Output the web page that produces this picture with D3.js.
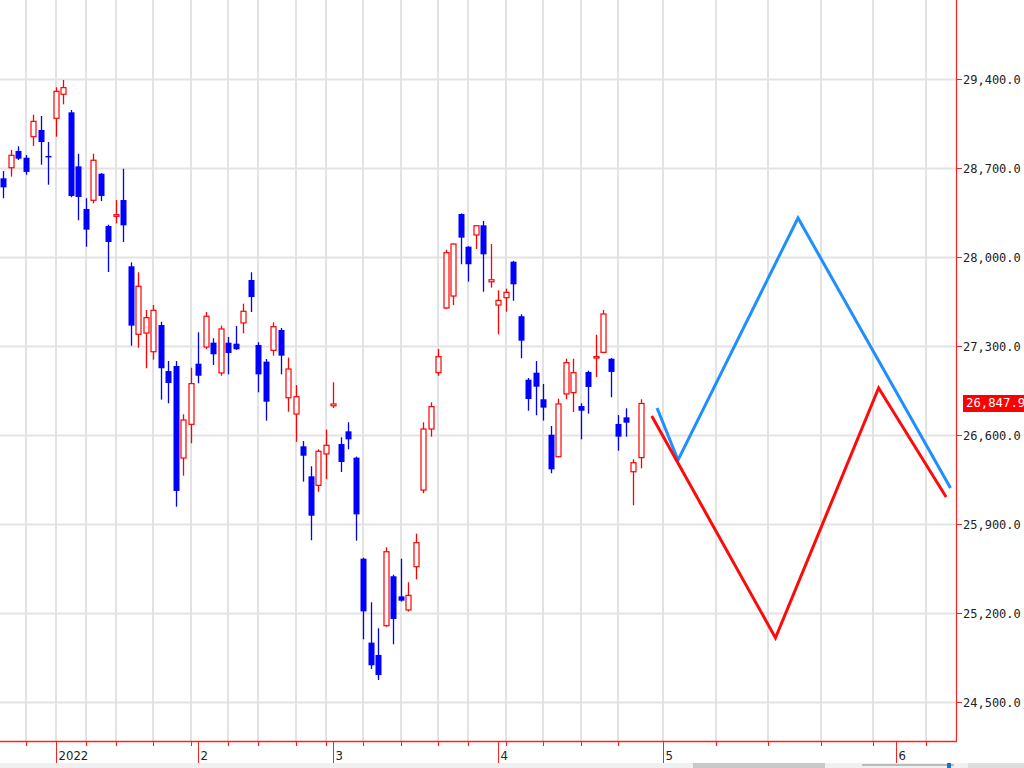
<!DOCTYPE html>
<html><head><meta charset="utf-8">
<script src="https://cdn.jsdelivr.net/npm/d3@7"></script>
<style>body{margin:0;background:#fff;overflow:hidden}svg{display:block}</style>
</head><body><svg id="c" width="1024" height="768"></svg>
<script>
// ---- DATA ----
const tradeDates = [
"2021-12-22","2021-12-23","2021-12-24","2021-12-27","2021-12-28","2021-12-29","2021-12-30",
"2022-01-04","2022-01-05","2022-01-06","2022-01-07","2022-01-11","2022-01-12","2022-01-13","2022-01-14",
"2022-01-17","2022-01-18","2022-01-19","2022-01-20","2022-01-21","2022-01-24","2022-01-25","2022-01-26","2022-01-27","2022-01-28",
"2022-01-31","2022-02-01","2022-02-02","2022-02-03","2022-02-04","2022-02-07","2022-02-08","2022-02-09","2022-02-10",
"2022-02-14","2022-02-15","2022-02-16","2022-02-17","2022-02-18","2022-02-21","2022-02-22","2022-02-24","2022-02-25",
"2022-02-28","2022-03-01","2022-03-02","2022-03-03","2022-03-04","2022-03-07","2022-03-08","2022-03-09","2022-03-10","2022-03-11",
"2022-03-14","2022-03-15","2022-03-16","2022-03-17","2022-03-18","2022-03-22","2022-03-23","2022-03-24","2022-03-25",
"2022-03-28","2022-03-29","2022-03-30","2022-03-31","2022-04-01","2022-04-04","2022-04-05","2022-04-06","2022-04-07","2022-04-08",
"2022-04-11","2022-04-12","2022-04-13","2022-04-14","2022-04-15","2022-04-18","2022-04-19","2022-04-20","2022-04-21","2022-04-22",
"2022-04-25","2022-04-26","2022-04-27","2022-04-28"];
const openV = [28619,28702,28834,28781,28946,28999,28795,
29091,29280,29138,28713,28378,28446,28655,28244,
28320,28448,27927,27392,27402,27255,27465,27103,27143,26419,
26684,27161,27292,27326,27088,27326,27318,27481,27819,
27308,27177,27266,27426,26893,26765,26511,26275,26204,
26451,26830,26529,26629,26422,25627,24967,24870,25100,25489,
25331,25224,25564,26167,26647,27090,27599,27693,28338,
28081,28173,28249,27805,27622,27680,27963,27534,27035,27090,
26881,26602,26429,26923,26933,26828,27096,27205,27250,27200,
26687,26739,26311,26422];
const highV = [28676,28842,28871,28802,29119,29109,28904,
29335,29392,29156,28812,28462,28812,28660,28254,
28448,28694,27958,27880,27583,27622,27491,27182,27182,26763,
27129,27408,27567,27361,27460,27371,27457,27633,27880,
27329,27198,27486,27442,27208,26993,26553,26354,26488,
26642,27015,26582,26700,26430,25635,25284,25080,25717,25501,
25627,25442,25824,26700,26857,27276,28057,28107,28343,
28085,28250,28283,28102,27738,27751,27970,27550,27048,27182,
27001,26671,26886,27200,27200,26849,27106,27389,27583,27205,
26757,26810,26409,26881];
const lowV = [28462,28632,28763,28647,28873,28726,28569,
28946,29201,28470,28289,28081,28422,28440,27882,
28265,28118,27302,27287,27125,27192,26878,26849,26036,26280,
26535,27007,27276,27151,27066,27077,27270,27400,27567,
26936,26713,27224,27077,26783,26547,26233,25772,26154,
26252,26812,26309,26488,25769,24993,24760,24673,25092,24954,
25290,25211,25465,26142,26587,27066,27592,27622,27943,
27806,28063,27727,27759,27392,27570,27656,27203,26791,26755,
26713,26299,26425,26881,26781,26566,26768,27056,27243,26897,
26477,26587,26047,26338];
const closeV = [28548,28800,28773,28669,29067,28904,28791,
29303,29332,28480,28472,28215,28761,28480,28118,
28333,28249,27460,27770,27523,27581,27125,27009,26160,26718,
27004,27066,27534,27235,27434,27245,27274,27573,27685,
27077,26862,27452,27224,27119,26901,26437,25965,26472,
26519,26844,26388,26566,25976,25213,24789,24712,25682,25153,
25297,25339,25753,26647,26823,27216,28034,28102,28152,
27943,28246,28021,27821,27659,27722,27785,27342,26883,26980,
26815,26330,26844,27169,27090,26791,26978,27217,27552,27096,
26587,26697,26382,26847.9];
const futureStart = "2022-04-29", futureEnd = "2022-06-12";
const weekLines = ["2021-12-27","2022-01-04","2022-01-11","2022-01-17","2022-01-24","2022-01-31","2022-02-07",
"2022-02-14","2022-02-21","2022-02-28","2022-03-07","2022-03-14","2022-03-22","2022-03-28","2022-04-04",
"2022-04-11","2022-04-18","2022-04-25","2022-05-01","2022-05-08","2022-05-15","2022-05-22","2022-05-29","2022-06-05"];
const monthTicks = ["2022-01-04","2022-02-01","2022-03-01","2022-04-01","2022-05-01","2022-06-01"];
const monthLabels = ["2022","2","3","4","5","6"];
const yTicks = [24500,25200,25900,26600,27300,28000,28700,29400];
const blueForecast = [["2022-04-30T05:00",26812],["2022-05-03",26403],["2022-05-19",28307],["2022-06-08T08:00",26183]];
const redForecast = [["2022-04-29T12:00",26750],["2022-05-16",25004],["2022-05-29T18:00",26970],["2022-06-07T18:00",26112]];

// ---- SCALES ----
const W = 1024, H = 768, plotR = 956, plotB = 741;
const parse = d3.isoParse;
const slots = tradeDates.map(parse).concat(d3.timeDay.range(parse(futureStart), d3.timeDay.offset(parse(futureEnd),1)));
const idxScale = d3.scaleTime().domain(slots).range(slots.map((d,i)=>i));
const xi = d3.scaleLinear().domain([0,1]).range([3,10.5]);
const x = s => xi(idxScale(parse(s)));
const y = d3.scaleLinear().domain([24500,29400]).range([702,79]);

const svg = d3.select("#c");
svg.append("defs").append("clipPath").attr("id","clip").append("rect").attr("x",0).attr("y",0).attr("width",plotR).attr("height",plotB);
const plot = svg.append("g").attr("clip-path","url(#clip)");

// grid
plot.selectAll(".hg").data(yTicks.concat([30100])).enter().append("line")
  .attr("x1",0).attr("x2",plotR).attr("y1",d=>Math.round(y(d))+0.5).attr("y2",d=>Math.round(y(d))+0.5)
  .attr("stroke","#e3e3e3").attr("stroke-width",2);
plot.selectAll(".vg").data(weekLines).enter().append("line")
  .attr("y1",0).attr("y2",plotB).attr("x1",d=>Math.round(x(d))).attr("x2",d=>Math.round(x(d)))
  .attr("stroke","#e3e3e3").attr("stroke-width",2);

// candles
const candles = tradeDates.map((d,i)=>({d,o:openV[i],h:highV[i],l:lowV[i],c:closeV[i]}));
const cg = plot.append("g");
candles.forEach(k=>{
  const cx = Math.round(x(k.d));
  const up = k.c >= k.o;
  const col = up ? "#ff0000" : "#0000ff";
  cg.append("line").attr("x1",cx+0.5).attr("x2",cx+0.5).attr("y1",y(k.h)).attr("y2",y(k.l))
    .attr("stroke",col).attr("stroke-width",1.3);
  const top = y(Math.max(k.o,k.c)), bot = y(Math.min(k.o,k.c));
  if (up) {
    cg.append("rect").attr("x",cx-2).attr("width",5).attr("y",top).attr("height",Math.max(1,bot-top))
      .attr("fill","#fff").attr("stroke",col).attr("stroke-width",1.2);
  } else {
    cg.append("rect").attr("x",cx-2.5).attr("width",6).attr("y",top).attr("height",Math.max(1.5,bot-top))
      .attr("fill",col);
  }
});

// forecast lines
const line = d3.line().x(d=>x(d[0])).y(d=>y(d[1]));
plot.append("path").datum(blueForecast).attr("d",line).attr("fill","none").attr("stroke","#1e8fff").attr("stroke-width",3);
plot.append("path").datum(redForecast).attr("d",line).attr("fill","none").attr("stroke","#ff0a0a").attr("stroke-width",3);

// right axis
svg.append("line").attr("x1",plotR+0.5).attr("x2",plotR+0.5).attr("y1",0).attr("y2",plotB).attr("stroke","#ff2020").attr("stroke-width",1.2);
const fmt = d3.format(",.1f");
const ya = svg.append("g");
yTicks.forEach(v=>{
  const yy = Math.round(y(v))+0.5;
  ya.append("line").attr("x1",plotR).attr("x2",plotR+6).attr("y1",yy).attr("y2",yy).attr("stroke","#ff2020");
  ya.append("text").attr("x",963).attr("y",yy+4).text(fmt(v))
    .attr("font-family","DejaVu Sans Mono, monospace").attr("font-size",12).attr("fill","#222");
});
// last price
const last = closeV[closeV.length-1];
svg.append("rect").attr("x",963).attr("y",y(last)-8.5).attr("width",61).attr("height",17).attr("fill","#ff0000");
svg.append("text").attr("x",966).attr("y",y(last)+4).text(fmt(last))
  .attr("font-family","DejaVu Sans Mono, monospace").attr("font-size",12.3).attr("fill","#fff");

// bottom axis
svg.append("line").attr("x1",0).attr("x2",plotR+1).attr("y1",plotB+0.5).attr("y2",plotB+0.5).attr("stroke","#ff2020").attr("stroke-width",1.5);
weekLines.forEach(d=>{
  const xx = Math.round(x(d))+0.5;
  svg.append("line").attr("x1",xx).attr("x2",xx).attr("y1",plotB).attr("y2",plotB+5).attr("stroke","#ff2020");
});
monthTicks.forEach((d,i)=>{
  const xx = Math.round(x(d))+0.5;
  svg.append("line").attr("x1",xx).attr("x2",xx).attr("y1",plotB).attr("y2",763).attr("stroke","#ff2020");
  svg.append("text").attr("x",xx+2).attr("y",760).text(monthLabels[i])
    .attr("font-family","Liberation Sans Narrow, DejaVu Sans Condensed, sans-serif").attr("font-size",13).attr("fill","#222");
});
// bottom strip (scrollbar)
svg.append("rect").attr("x",0).attr("y",763).attr("width",W).attr("height",5).attr("fill","#f0f0f0");
svg.append("rect").attr("x",693).attr("y",763).attr("width",132).attr("height",5).attr("fill","#c8c8c8");
svg.append("rect").attr("x",862).attr("y",764).attr("width",92).attr("height",2).attr("fill","#bbb");
svg.append("rect").attr("x",947).attr("y",763).attr("width",4).attr("height",5).attr("fill","#1e6fd0");
svg.append("rect").attr("x",968).attr("y",763).attr("width",56).attr("height",5).attr("fill","#ddd");
</script></body></html>
